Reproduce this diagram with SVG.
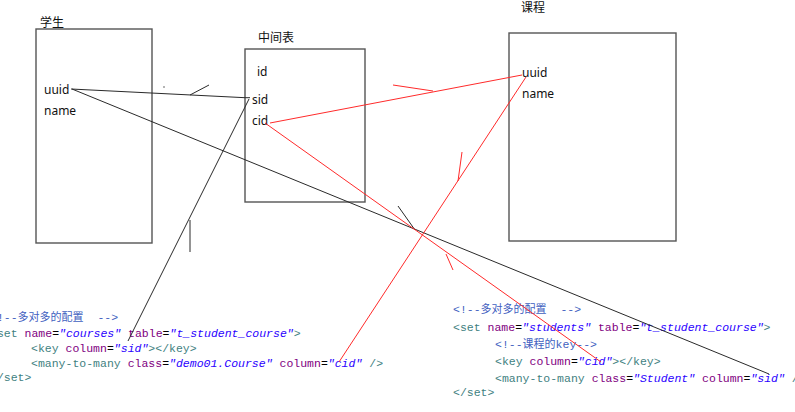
<svg xmlns="http://www.w3.org/2000/svg" width="795" height="412" viewBox="0 0 795 412">
<style>
  .box { fill: none; stroke: #555; stroke-width: 1.4; }
  .title { font-family: "Noto Sans CJK SC", "Noto Sans", sans-serif; font-size: 12px; fill: #111; }
  .fld { font-family: "Noto Sans", "Noto Sans CJK SC", sans-serif; font-size: 12px; fill: #111; }
  .code { font-family: "Liberation Mono", "Noto Sans CJK SC", monospace; font-size: 11.5px; fill: #000; white-space: pre; }
  .cm { fill: #3f5fbf; }
  .tg { fill: #3f7f7f; }
  .an { fill: #7f007f; }
  .av { fill: #2a00ff; font-style: italic; }
  .cjk { font-size: 11px; }
  .blk { stroke: #2a2a2a; stroke-width: 1; fill: none; }
  .red { stroke: #ff2a2a; stroke-width: 1; fill: none; }
</style>
<rect width="795" height="412" fill="#fff"/>

<g id="student">
  <rect class="box" x="36" y="29" width="116" height="214"/>
  <text class="title" x="40" y="27">学生</text>
  <text class="fld" x="44" y="94">uuid</text>
  <text class="fld" x="44" y="115">name</text>
</g>

<g id="middle">
  <rect class="box" x="245" y="49" width="120" height="153"/>
  <text class="title" x="258" y="42">中间表</text>
  <text class="fld" x="257" y="76">id</text>
  <text class="fld" x="252" y="104">sid</text>
  <text class="fld" x="252" y="125">cid</text>
</g>

<g id="course">
  <rect class="box" x="509" y="33" width="167" height="208"/>
  <text class="title" x="521" y="12">课程</text>
  <text class="fld" x="522" y="77">uuid</text>
  <text class="fld" x="522" y="98">name</text>
</g>

<g id="code-left" class="code">
  <text x="-10" y="321" class="code"><tspan class="cm">&lt;!--<tspan class="cjk">多对多的配置</tspan>  --&gt;</tspan></text>
  <text x="-10" y="337" class="code"><tspan class="tg">&lt;set</tspan> <tspan class="an">name</tspan>=<tspan class="av">"courses"</tspan> <tspan class="an">table</tspan>=<tspan class="av">"t_student_course"</tspan><tspan class="tg">&gt;</tspan></text>
  <text x="31" y="352" class="code"><tspan class="tg">&lt;key</tspan> <tspan class="an">column</tspan>=<tspan class="av">"sid"</tspan><tspan class="tg">&gt;&lt;/key&gt;</tspan></text>
  <text x="31" y="367" class="code"><tspan class="tg">&lt;many-to-many</tspan> <tspan class="an">class</tspan>=<tspan class="av">"demo01.Course"</tspan> <tspan class="an">column</tspan>=<tspan class="av">"cid"</tspan> <tspan class="tg">/&gt;</tspan></text>
  <text x="-10" y="381" class="code"><tspan class="tg">&lt;/set&gt;</tspan></text>
</g>

<g id="code-right" class="code">
  <text x="453" y="313" class="code"><tspan class="cm">&lt;!--<tspan class="cjk">多对多的配置</tspan>  --&gt;</tspan></text>
  <text x="453" y="331" class="code"><tspan class="tg">&lt;set</tspan> <tspan class="an">name</tspan>=<tspan class="av">"students"</tspan> <tspan class="an">table</tspan>=<tspan class="av">"t_student_course"</tspan><tspan class="tg">&gt;</tspan></text>
  <text x="495" y="348" class="code"><tspan class="cm">&lt;!--<tspan class="cjk">课程的</tspan>key--&gt;</tspan></text>
  <text x="495" y="365" class="code"><tspan class="tg">&lt;key</tspan> <tspan class="an">column</tspan>=<tspan class="av">"cid"</tspan><tspan class="tg">&gt;&lt;/key&gt;</tspan></text>
  <text x="495" y="382" class="code"><tspan class="tg">&lt;many-to-many</tspan> <tspan class="an">class</tspan>=<tspan class="av">"Student"</tspan> <tspan class="an">column</tspan>=<tspan class="av">"sid"</tspan> <tspan class="tg">/&gt;</tspan></text>
  <text x="453" y="396" class="code"><tspan class="tg">&lt;/set&gt;</tspan></text>
</g>

<g id="connectors">
  <!-- black: student.uuid -> middle.sid -->
  <polyline class="blk" points="71,89 245,97.7 250,97.7"/>
  <line class="blk" x1="190" y1="95" x2="209" y2="85"/>
  <circle cx="164" cy="87" r="0.8" fill="#555"/>
  <!-- black: middle.sid -> left code sid -->
  <line class="blk" x1="249" y1="99" x2="128" y2="341"/>
  <line class="blk" x1="190" y1="220" x2="190" y2="252"/>
  <!-- black: student.uuid -> right code sid -->
  <line class="blk" x1="72" y1="89" x2="769" y2="374"/>
  <line class="blk" x1="398" y1="206" x2="415" y2="230"/>
  <!-- red: middle.cid -> course.uuid -->
  <line class="red" x1="270" y1="123" x2="522" y2="75"/>
  <line class="red" x1="393" y1="85" x2="433" y2="91"/>
  <!-- red: middle.cid -> right code cid -->
  <line class="red" x1="265" y1="123" x2="601" y2="362"/>
  <line class="red" x1="446" y1="254" x2="453" y2="270"/>
  <!-- red: course.uuid -> left code cid -->
  <line class="red" x1="526" y1="77" x2="339" y2="362"/>
  <line class="red" x1="458" y1="181" x2="462" y2="152"/>
</g>
</svg>
